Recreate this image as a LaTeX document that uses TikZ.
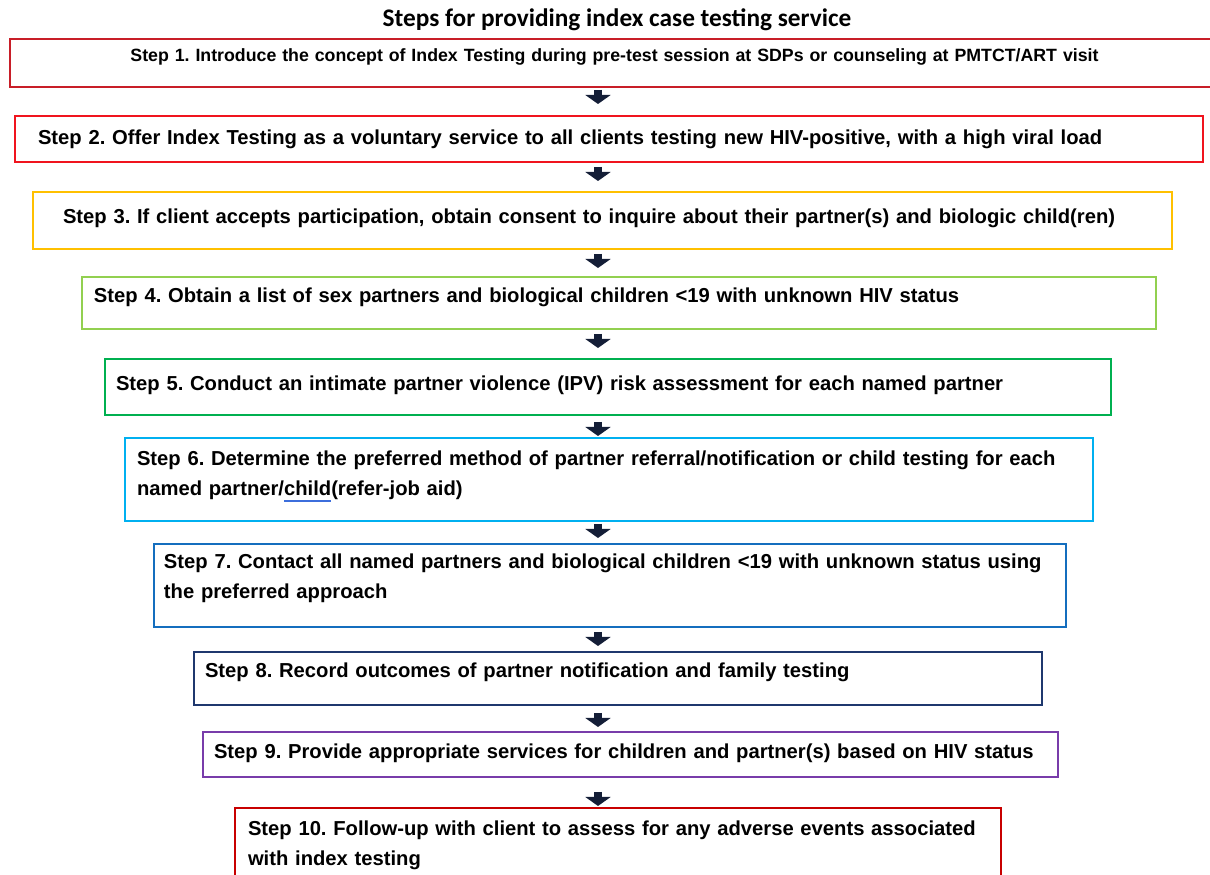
\documentclass[tikz,border=0pt]{standalone}
\usepackage{fontspec}
\usepackage{xcolor}
\usetikzlibrary{arrows.meta}
\newfontfamily\stepfont{Liberation Sans}
\newfontfamily\titlefont{Carlito}
\definecolor{stepRed}{RGB}{200, 30, 40}
\definecolor{brightRed}{RGB}{240, 20, 30}
\definecolor{stepGold}{RGB}{255, 192, 0}
\definecolor{stepLime}{RGB}{146, 208, 80}
\definecolor{stepGreen}{RGB}{0, 176, 80}
\definecolor{stepSky}{RGB}{0, 176, 240}
\definecolor{stepBlue}{RGB}{20, 110, 190}
\definecolor{stepNavy}{RGB}{31, 56, 110}
\definecolor{stepPurple}{RGB}{120, 60, 170}
\definecolor{darkRed}{RGB}{200, 0, 0}
\definecolor{arrowNavy}{RGB}{20, 30, 55}
\definecolor{spellBlue}{RGB}{60, 110, 220}
\newcommand{\spellmark}[1]{{\color{spellBlue}\underline{\textcolor{black}{#1}}}}
\hyphenpenalty=10000
\exhyphenpenalty=10000

\begin{document}
\frenchspacing
\begin{tikzpicture}[
    x=0.1mm, y=-0.1mm,
    box/.style={draw, line width=0.2mm, anchor=north west, inner ysep=0pt, align=left,
        font=\stepfont\bfseries\fontsize{5.75}{8.5}\selectfont},
    flow/.style={arrowNavy, line width=0.85mm, -{Triangle[width=2.5mm, length=0.9mm]}}
]
\useasboundingbox (0,0) rectangle (1210,875);

% Title
\node[font=\titlefont\bfseries\fontsize{7.2}{8}\selectfont, anchor=base] (title) at (617,27) {Steps for providing index case testing service};

% Steps
\node[box, draw=stepRed, inner xsep=1mm, text width=118.9mm, align=center, text height=2.3mm, text depth=2.5mm,
    font=\stepfont\bfseries\fontsize{5.05}{7}\selectfont] (s1) at (9,38)
    {Step 1. Introduce the concept of Index Testing during pre-test session at SDPs or counseling at PMTCT/ART visit};

\node[box, draw=brightRed, inner xsep=2.3mm, text width=114.2mm, text height=2.9mm, text depth=1.7mm] (s2) at (14,115)
    {Step 2. Offer Index Testing as a voluntary service to all clients testing new HIV-positive, with a high viral load};

\node[box, draw=stepGold, inner xsep=3mm, text width=107.9mm, text height=3.2mm, text depth=2.5mm] (s3) at (32,191)
    {Step 3. If client accepts participation, obtain consent to inquire about their partner(s) and biologic child(ren)};

\node[box, draw=stepLime, inner xsep=1.2mm, text width=105mm, text height=2.6mm, text depth=2.6mm] (s4) at (81,276)
    {Step 4. Obtain a list of sex partners and biological children <19 with unknown HIV status};

\node[box, draw=stepGreen, inner xsep=1.1mm, text width=98.4mm, text height=3.2mm, text depth=2.4mm] (s5) at (104,358)
    {Step 5. Conduct an intimate partner violence (IPV) risk assessment for each named partner};

\node[box, draw=stepSky, inner xsep=1.2mm, text width=94.4mm, text height=2.8mm, text depth=5.5mm] (s6) at (124,437)
    {Step 6. Determine the preferred method of partner referral/notification or child testing for each\\
     named partner/\spellmark{child}(refer-job aid)};

\node[box, draw=stepBlue, inner xsep=1mm, text width=89.2mm, text height=2.5mm, text depth=5.8mm] (s7) at (153,543)
    {Step 7. Contact all named partners and biological children <19 with unknown status using\\
     the preferred approach};

\node[box, draw=stepNavy, inner xsep=1.1mm, text width=82.6mm, text height=2.6mm, text depth=2.7mm] (s8) at (193,651)
    {Step 8. Record outcomes of partner notification and family testing};

\node[box, draw=stepPurple, inner xsep=1.1mm, text width=83.3mm, text height=2.7mm, text depth=1.8mm] (s9) at (202,731)
    {Step 9. Provide appropriate services for children and partner(s) based on HIV status};

\node[box, draw=darkRed, inner xsep=1.3mm, text width=74mm, text height=2.8mm, text depth=6.5mm] (s10) at (234,807)
    {Step 10. Follow-up with client to assess for any adverse events associated\\
     with index testing};

% Arrows
\coordinate (spine) at (598,0);
\draw[flow, shorten <=0.2mm, shorten >=1.1mm] (s1.south -| spine) -- (s2.north -| spine);
\draw[flow, shorten <=0.4mm, shorten >=1mm] (s2.south -| spine) -- (s3.north -| spine);
\draw[flow, shorten <=0.4mm, shorten >=0.8mm] (s3.south -| spine) -- (s4.north -| spine);
\draw[flow, shorten <=0.4mm, shorten >=1mm] (s4.south -| spine) -- (s5.north -| spine);
\draw[flow, shorten <=0.6mm, shorten >=0.1mm] (s5.south -| spine) -- (s6.north -| spine);
\draw[flow, shorten <=0.2mm, shorten >=0.5mm] (s6.south -| spine) -- (s7.north -| spine);
\draw[flow, shorten <=0.4mm, shorten >=0.5mm] (s7.south -| spine) -- (s8.north -| spine);
\draw[flow, shorten <=0.7mm, shorten >=0.4mm] (s8.south -| spine) -- (s9.north -| spine);
\draw[flow, shorten <=1.4mm, shorten >=0.1mm] (s9.south -| spine) -- (s10.north -| spine);

\end{tikzpicture}
\end{document}
